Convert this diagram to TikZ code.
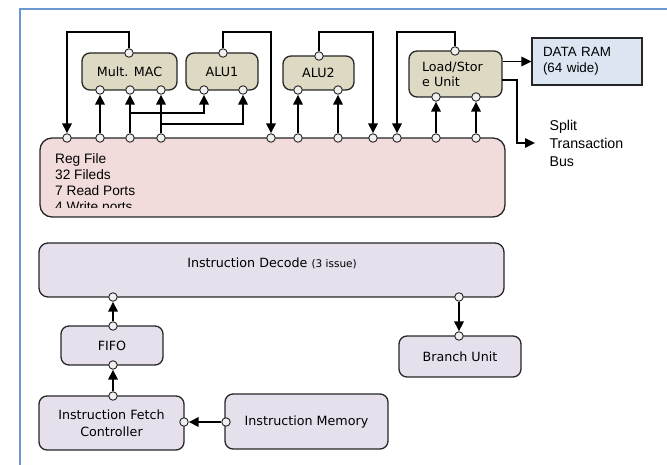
\documentclass[tikz,border=0pt]{standalone}
\usepackage{fontspec}
\setmainfont{DejaVu Sans}
\newfontfamily\arialfont{Liberation Sans}
\usetikzlibrary{arrows.meta}
\definecolor{unitfill}{HTML}{DDD9C3}
\definecolor{regfill}{HTML}{F2DCDB}
\definecolor{ramfill}{HTML}{DCE6F2}
\definecolor{ctrlfill}{HTML}{E5E0EC}
\definecolor{portfill}{HTML}{F0F0F0}
\definecolor{framecol}{HTML}{6C98D2}
\begin{document}
\begin{tikzpicture}[x=1pt,y=-1pt,
    font=\fontsize{12.7}{17}\selectfont,
    box/.style={draw=black!85, line width=1.3pt, rounded corners=8pt, inner sep=0pt},
    unit/.style={box, fill=unitfill},
    ctrl/.style={box, fill=ctrlfill},
    port/.style={circle, draw=black!85, fill=portfill, line width=0.9pt, inner sep=0pt, minimum size=8.5pt},
    wire/.style={line width=1.7pt, -{Triangle[width=9.5pt,length=10pt]}},
    arial/.style={font=\arialfont\fontsize{13.7}{16}\selectfont, align=left}]
  \useasboundingbox (0,0) rectangle (667,465);
  \draw[framecol, line width=2.5pt] (20,470) -- (20,9) -- (670,9);

  % execution units
  \node[unit, minimum width=95pt, minimum height=37pt] (mac) at (129.5,71.5) {Mult. MAC};
  \node[unit, minimum width=72pt, minimum height=37pt] (alu1) at (222,71.5) {ALU1};
  \node[unit, minimum width=71pt, minimum height=34pt] (alu2) at (318.5,73) {ALU2};
  \node[unit, minimum width=93pt, minimum height=46pt, text width=67pt, align=left,
        font=\fontsize{12.7}{15}\selectfont] (ls) at (455.5,74) {Load/Stor\\e Unit};
  \node[box, fill=ramfill, rounded corners=0pt, minimum width=110pt, minimum height=47pt,
        text width=88pt, arial, font=\arialfont\fontsize{13.4}{16.5}\selectfont] (ram) at (587,61.5) {DATA RAM\\(64 wide)};
  \node[arial, anchor=west, font=\arialfont\fontsize{14.2}{18}\selectfont] (bustxt) at (546,143) {Split\\Transaction\\Bus};

  % register file
  \node[box, fill=regfill, rounded corners=12pt, minimum width=465pt, minimum height=79pt] (reg) at (272.5,177.5) {};
  \begin{scope}
    \clip (40,140) rectangle (505,208);
    \node[arial, anchor=north west, inner sep=0pt] (regtxt) at (55,153) {Reg File\\32 Fileds\\7 Read Ports\\4 Write ports};
  \end{scope}

  % control path
  \node[ctrl, minimum width=465pt, minimum height=54pt, rounded corners=9pt] (dec) at (271.5,270) {};
  \node (dectxt) at (272,263) {Instruction Decode {\fontsize{10.5}{12}\selectfont(3 issue)}};
  \node[ctrl, minimum width=102pt, minimum height=39pt] (fifo) at (112,345.5) {FIFO};
  \node[ctrl, minimum width=145pt, minimum height=54pt, align=center] (ifc) at (111.5,423) {Instruction Fetch\\Controller};
  \node[ctrl, minimum width=163pt, minimum height=55pt] (imem) at (306.5,421.5) {Instruction Memory};
  \node[ctrl, minimum width=122pt, minimum height=41pt] (bru) at (460,356.5) {Branch Unit};

  % ports
  \foreach \x [count=\i] in {67,100,130,161,271,298,338,373,397,436,476}
    \node[port] (rp\i) at (\x,138) {};
  \node[port] (macT) at (129,53) {};
  \node[port] (macB1) at (100,90) {};
  \node[port] (macB2) at (130,90) {};
  \node[port] (macB3) at (161,90) {};
  \node[port] (a1T) at (223,53) {};
  \node[port] (a1B1) at (204,90) {};
  \node[port] (a1B2) at (243,90) {};
  \node[port] (a2T) at (319,56) {};
  \node[port] (a2B1) at (298,90) {};
  \node[port] (a2B2) at (338,90) {};
  \node[port] (lsT) at (455,51) {};
  \node[port] (lsB1) at (436,97) {};
  \node[port] (lsB2) at (476,97) {};
  \node[port] (decB1) at (113,297) {};
  \node[port] (decB2) at (459,297) {};
  \node[port] (fifoT) at (113,326) {};
  \node[port] (fifoB) at (113,365) {};
  \node[port] (ifcT) at (113,396) {};
  \node[port] (ifcR) at (184,422) {};
  \node[port] (imL) at (226,422) {};
  \node[port] (brT) at (459,336) {};

  \coordinate (j1) at (130,113);
  \coordinate (j2) at (161,124);
  \coordinate (lsout) at (502,80);
  \coordinate (bus) at (535,143);

  \begin{scope}[wire]
    \draw (macT) -- ++(0,-21) -| (rp1);
    \draw (a1T) -- ++(0,-21) -| (rp5);
    \draw (a2T) -- ++(0,-24) -| (rp8);
    \draw (lsT) -- ++(0,-19) -| (rp9);
    \draw (rp2) -- (macB1);
    \draw (rp3) -- (macB2);
    \draw (rp4) -- (macB3);
    \draw (j1) -| (a1B1);
    \draw (j2) -| (a1B2);
    \draw (rp6) -- (a2B1);
    \draw (rp7) -- (a2B2);
    \draw (rp10) -- (lsB1);
    \draw (rp11) -- (lsB2);
    \draw (ls.east |- ram.west) -- (ram.west);
    \draw (lsout) -- ++(15,0) |- (bus);
    \draw (fifoT) -- (decB1);
    \draw (ifcT) -- (fifoB);
    \draw (decB2) -- (brT);
    \draw (imL) -- (ifcR);
  \end{scope}
\end{tikzpicture}
\end{document}
